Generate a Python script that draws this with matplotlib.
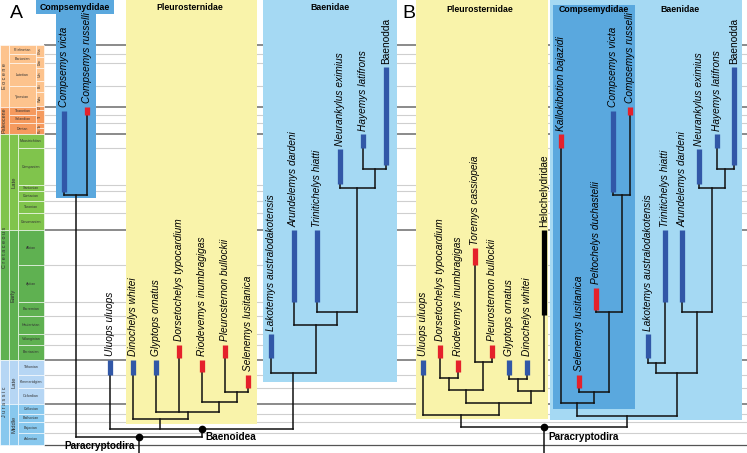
import matplotlib
matplotlib.use("Agg")
import matplotlib.pyplot as plt
from matplotlib.patches import Rectangle

plt.rcParams["font.family"] = ["Liberation Sans", "DejaVu Sans"]

# --- time scale (GTS 2004, Ma) ---
stage_names = ["Priabonian", "Bartonian", "Lutetian", "Ypresian",
               "Thanetian", "Selandian", "Danian",
               "Maastrichtian", "Campanian", "Santonian", "Coniacian", "Turonian", "Cenomanian",
               "Albian", "Aptian", "Barremian", "Hauterivian", "Valanginian", "Berriasian",
               "Tithonian", "Kimmeridgian", "Oxfordian",
               "Callovian", "Bathonian", "Bajocian", "Aalenian"]
stage_top = [33.9, 37.2, 40.4, 48.6, 55.8, 58.7, 61.7, 65.5, 70.6, 83.5, 85.8, 89.3, 93.5,
             99.6, 112.0, 125.0, 130.0, 136.4, 140.2, 145.5, 150.8, 155.7, 161.2, 164.7, 167.7, 171.6]
stage_base = stage_top[1:] + [175.6]
stage_epoch = ["Eocene"] * 4 + ["Paleocene"] * 3 + ["LateK"] * 6 + ["EarlyK"] * 6 + \
              ["LateJ"] * 3 + ["MiddleJ"] * 4

epoch_names = ["Eocene", "Paleocene", "LateK", "EarlyK", "LateJ", "MiddleJ"]
epoch_top = [33.9, 55.8, 65.5, 99.6, 145.5, 161.2]
epoch_base = [55.8, 65.5, 99.6, 145.5, 161.2, 175.6]
epoch_label = ["", "", "Late", "Early", "Late", "Middle"]

nalma_names = ["Cha", "Duc", "Uin", "Bri", "Was", "Cf", "Ti", "To", "Pu"]
nalma_top = [33.9, 38.0, 42.0, 46.5, 50.5, 55.4, 56.8, 61.7, 63.3]
nalma_base = nalma_top[1:] + [65.5]

# --- taxa: (youngest, oldest, region) ---
taxa = {
    "Compsemys victa": (57.2, 86.0, "NA"),
    "Compsemys russelli": (55.8, 58.7, "EU"),
    "Uluops uluops": (145.5, 150.8, "NA"),
    "Dinochelys whitei": (145.5, 150.8, "NA"),
    "Glyptops ornatus": (145.5, 150.8, "NA"),
    "Dorsetochelys typocardium": (140.2, 145.0, "EU"),
    "Riodevemys inumbragigas": (145.5, 150.0, "EU"),
    "Pleurosternon bullockii": (140.2, 145.0, "EU"),
    "Selenemys lusitanica": (150.8, 155.5, "EU"),
    "Lakotemys australodakotensis": (136.4, 145.0, "NA"),
    "Arundelemys dardeni": (99.6, 125.0, "NA"),
    "Trinitichelys hiatti": (99.6, 125.0, "NA"),
    "Neurankylus eximius": (70.8, 83.2, "NA"),
    "Hayemys latifrons": (65.5, 70.6, "NA"),
    "Baenodda": (41.7, 76.5, "NA"),
    "Toremys cassiopeia": (105.9, 112.0, "EU"),
    "Helochelydridae": (99.6, 129.6, "clade"),
    "Kallokibotion bajazidi": (65.5, 70.6, "EU"),
    "Peltochelys duchastelii": (120.0, 128.0, "EU"),
}
upright = ["Baenodda", "Helochelydridae"]

# --- trees: (node label, node age, children) ---
a_comps = (None, 87.1, ["Compsemys victa", "Compsemys russelli"])
a_pleuro = (None, 166.5, ["Dinochelys whitei",
            (None, 164.0, ["Glyptops ornatus", "Dorsetochelys typocardium",
             (None, 160.5, ["Riodevemys inumbragigas",
              (None, 156.9, ["Pleurosternon bullockii", "Selenemys lusitanica"])])])])
a_baenid = (None, 150.2, ["Lakotemys australodakotensis",
            (None, 133.2, ["Arundelemys dardeni",
             (None, 128.6, ["Trinitichelys hiatti",
              (None, 84.6, ["Neurankylus eximius",
               (None, 77.9, ["Hayemys latifrons", "Baenodda"])])])])])
tree_a = ("Paracryptodira", 172.9, [a_comps,
          ("Baenoidea", 170.1, ["Uluops uluops", a_pleuro, a_baenid])])

b_pleuro = (None, 165.1, ["Uluops uluops",
            (None, 160.9, [
             (None, 156.2, [(None, 152.0, ["Dorsetochelys typocardium", "Riodevemys inumbragigas"]),
                            (None, 146.3, ["Toremys cassiopeia", "Pleurosternon bullockii"])]),
             (None, 156.6, [(None, 152.3, ["Glyptops ornatus", "Dinochelys whitei"]),
                            "Helochelydridae"])])])
b_comps = (None, 160.9, ["Kallokibotion bajazidi",
           (None, 156.9, ["Selenemys lusitanica",
            (None, 128.6, ["Peltochelys duchastelii",
             (None, 87.1, ["Compsemys victa", "Compsemys russelli"])])])])
b_baenid = (None, 150.2, [(None, 146.7, ["Lakotemys australodakotensis", "Trinitichelys hiatti"]),
            (None, 128.6, ["Arundelemys dardeni",
             (None, 84.6, ["Neurankylus eximius",
              (None, 77.9, ["Hayemys latifrons", "Baenodda"])])])])
tree_b = ("Paracryptodira", 169.4, [b_pleuro, (None, 165.5, [b_comps, b_baenid])])


def py(y):
    # pixel row of the original layout -> age
    return 33.9 + (y - 45) / 2.82


fig = plt.figure(figsize=(7.47, 4.53), dpi=100)
ax = fig.add_axes([0, 0, 1, 1])
ax.set_xlim(0, 747)
ax.set_ylim(py(453), py(0))
ax.axis("off")

# time lines
epoch_lines = [33.9, 55.8, 65.5, 99.6, 145.5, 161.2]
for t in stage_top + [175.6]:
    if t in epoch_lines:
        ax.hlines(t, 44, 747, color="#8a8a8a", lw=1.4, zorder=1)
    elif t == 175.6:
        ax.hlines(t, 44, 747, color="#555555", lw=0.9, zorder=1)
    else:
        ax.hlines(t, 44, 747, color="#cfcfcf", lw=0.8, zorder=1)

# chronostratigraphic column
ecol = {"Eocene": "#fdc38d", "Paleocene": "#f59a5e", "LateK": "#80c44c",
        "EarlyK": "#5fb151", "LateJ": "#b6d6f4", "MiddleJ": "#88c8ee"}
for name, t, b, ep in zip(stage_names, stage_top, stage_base, stage_epoch):
    paleo = ep in ("Eocene", "Paleocene")
    x0, x1 = (9, 36) if paleo else (18, 44)
    ax.add_patch(Rectangle((x0, t), x1 - x0, b - t, fc=ecol[ep], ec="white", lw=0.4, zorder=2))
    ax.text((x0 + x1) / 2, (t + b) / 2, name, fontsize=2.6, color="#333333",
            ha="center", va="center", zorder=3)
for name, t, b in zip(nalma_names, nalma_top, nalma_base):
    ep = "Eocene" if b <= 55.8 else "Paleocene"
    ax.add_patch(Rectangle((36, t), 8, b - t, fc=ecol[ep], ec="white", lw=0.4, zorder=2))
    ax.text(40, (t + b) / 2, name, fontsize=2.6, rotation=90, color="#333333",
            ha="center", va="center", zorder=3)
for ep, t, b, lab in zip(epoch_names, epoch_top, epoch_base, epoch_label):
    ax.add_patch(Rectangle((0, t), 9, b - t, fc=ecol[ep], ec="white", lw=0.4, zorder=2))
    if lab:
        ax.add_patch(Rectangle((9, t), 9, b - t, fc=ecol[ep], ec="white", lw=0.4, zorder=2))
        ax.text(13.5, (t + b) / 2, lab, fontsize=4.2, rotation=90, color="#333333",
                ha="center", va="center", zorder=3)
period_txt = [("E o c e n e", 33.9, 55.8), ("Paleocene", 55.8, 65.5),
              ("C r e t a c e o u s", 65.5, 145.5), ("J u r a s s i c", 145.5, 175.6)]
for lab, t, b in period_txt:
    ax.text(4.5, (t + b) / 2, lab, fontsize=3.9, rotation=90, color="#333333",
            ha="center", va="center", zorder=3)

# clade boxes
yellow, lblue, blue = "#f9f3aa", "#a5d9f3", "#5aa8de"
top = py(0)
boxes = [(56, 96, 198, blue), (126, 257, 424, yellow), (263, 397, 382, lblue),
         (416, 548, 419, yellow), (550, 742, 420, lblue)]
for x0, x1, yb, c in boxes:
    ax.add_patch(Rectangle((x0, top), x1 - x0, py(yb) - top, fc=c, ec="none", zorder=4))
ax.add_patch(Rectangle((36, top), 78, py(14) - top, fc=blue, ec="none", zorder=4))
ax.add_patch(Rectangle((553, py(5)), 82, py(409) - py(5), fc=blue, ec="none", zorder=4))

heads = [("Compsemydidae", 75, 7), ("Pleurosternidae", 190, 8), ("Baenidae", 330, 8),
         ("Pleurosternidae", 480, 10), ("Compsemydidae", 594, 10), ("Baenidae", 680, 10)]
for lab, x, y in heads:
    ax.text(x, py(y), lab, fontsize=6.3, fontweight="bold", ha="center", va="center", zorder=6)

ax.text(16, py(14), "A", fontsize=14, ha="center", va="center", zorder=6)
ax.text(409, py(13), "B", fontsize=14, ha="center", va="center", zorder=6)

# trees
bar_col = {"NA": "#3157a7", "EU": "#e5212b", "clade": "black"}
lw_tree = 1.1


def draw(node, parent_age, slots, named):
    if isinstance(node, str):
        x = slots.pop(0)
        young, old, reg = taxa[node]
        ax.plot([x, x], [old, parent_age], color="#111111", lw=lw_tree, zorder=5)
        ax.plot([x, x], [young, old], color=bar_col[reg], lw=3.8, solid_capstyle="butt", zorder=6)
        ax.annotate(node, (x, young), xytext=(0, 2.5), textcoords="offset points",
                    rotation=90, ha="center", va="bottom", fontsize=7.3,
                    style="normal" if node in upright else "italic", zorder=6)
        return x
    lab, age, kids = node
    xs = [draw(k, age, slots, named) for k in kids]
    ax.plot([min(xs), max(xs)], [age, age], color="#111111", lw=lw_tree, zorder=5)
    x = (min(xs) + max(xs)) / 2
    ax.plot([x, x], [age, parent_age], color="#111111", lw=lw_tree, zorder=5)
    if lab:
        ax.plot(x, age, "o", color="black", ms=4.5, zorder=7)
        named[lab] = (x, age)
    return x


named_a, named_b = {}, {}
draw(tree_a, py(460), [64 + 23 * i for i in range(15)], named_a)
draw(tree_b, py(460), [423 + 17.28 * i for i in range(19)], named_b)

node_font = dict(fontsize=7.2, fontweight="bold", zorder=7)
ax.annotate("Baenoidea", named_a["Baenoidea"], xytext=(3, -6), textcoords="offset points",
            ha="left", va="center", **node_font)
ax.annotate("Paracryptodira", named_a["Paracryptodira"], xytext=(-3, -6.5), textcoords="offset points",
            ha="right", va="center", **node_font)
ax.annotate("Paracryptodira", named_b["Paracryptodira"], xytext=(3.5, -7.2), textcoords="offset points",
            ha="left", va="center", **node_font)

fig.savefig("out.png", dpi=100)
